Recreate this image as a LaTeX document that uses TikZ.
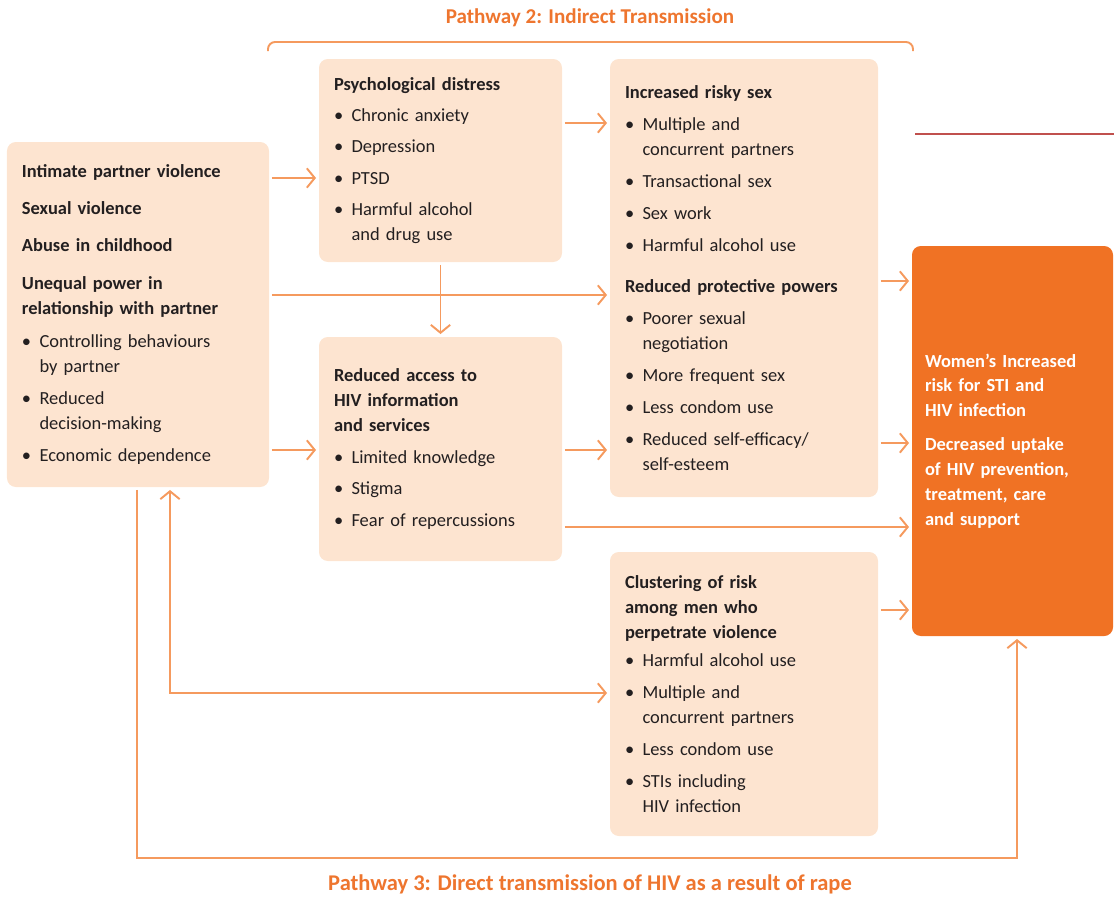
\documentclass[tikz,border=0pt]{standalone}
\usepackage{fontspec}
\setmainfont{Carlito}
\usepackage{xcolor}
\usepackage{tikz}
\usetikzlibrary{shapes, arrows.meta, calc}

\definecolor{peach}{RGB}{253,228,208}
\definecolor{outorange}{RGB}{240,114,36}
\definecolor{arrowc}{RGB}{245,154,94}
\definecolor{titlec}{RGB}{238,117,46}
\definecolor{redline}{RGB}{192,80,77}
\definecolor{textc}{RGB}{35,31,32}

\newcommand{\bul}{\makebox[0.95em][l]{\textbullet}}
\newcommand{\ind}{\hspace*{0.95em}}

\begin{document}
\begin{tikzpicture}[
  font=\fontsize{10.5}{14.2}\selectfont,
  factor/.style  = {fill=peach, rounded corners=5pt, inner xsep=0.3cm,
                    align=left, text=textc},
  outcome/.style = {fill=outorange, rounded corners=5pt, inner xsep=0.26cm,
                    align=left, text=white, font=\fontsize{10.5}{14.2}\selectfont\bfseries},
  arr/.style     = {-{Straight Barb[length=4.5pt,width=11pt]}, draw=arrowc,
                    line width=1.1pt, shorten <=1.5pt, shorten >=1.5pt},
  arrboth/.style = {{Straight Barb[length=4.5pt,width=11pt]}-{Straight Barb[length=4.5pt,width=11pt]},
                    draw=arrowc, line width=1.1pt, shorten <=1.5pt, shorten >=1.5pt},
  brace/.style   = {draw=arrowc, line width=1.1pt, rounded corners=4pt},
  title/.style   = {text=titlec, font=\fontsize{12}{14}\selectfont\bfseries},
]
\useasboundingbox (0,0) rectangle (22.28,-17.92);

%% Violence and power
\node[factor, text width=4.64cm, minimum height=6.9cm] (left) at (2.76, -6.29)
     {\textbf{Intimate partner violence}\\[7pt]
      \textbf{Sexual violence}\\[7pt]
      \textbf{Abuse in childhood}\\[7pt]
      \textbf{Unequal power in}\\
      \textbf{relationship with partner}\\[5pt]
      \bul Controlling behaviours\\
      \ind by partner\\[4pt]
      \bul Reduced\\
      \ind decision-making\\[4pt]
      \bul Economic dependence};

%% Pathway 2 middle column
\node[factor, text width=4.26cm, minimum height=4.06cm] (psych) at (8.81, -3.21)
     {\textbf{Psychological distress}\\[3.5pt]
      \bul Chronic anxiety\\[3.5pt]
      \bul Depression\\[3.5pt]
      \bul PTSD\\[3.5pt]
      \bul Harmful alcohol\\
      \ind and drug use};
\node[factor, text width=4.26cm, minimum height=4.48cm] (access) at (8.81, -8.98)
     {\textbf{Reduced access to}\\
      \textbf{HIV information}\\
      \textbf{and services}\\[4pt]
      \bul Limited knowledge\\[3.5pt]
      \bul Stigma\\[3.5pt]
      \bul Fear of repercussions};

%% Right column
\node[factor, text width=4.76cm, minimum height=8.76cm] (risky) at (14.88, -5.56)
     {\textbf{Increased risky sex}\\[4pt]
      \bul Multiple and\\
      \ind concurrent partners\\[4pt]
      \bul Transactional sex\\[4pt]
      \bul Sex work\\[4pt]
      \bul Harmful alcohol use\\[9pt]
      \textbf{Reduced protective powers}\\[4pt]
      \bul Poorer sexual\\
      \ind negotiation\\[4pt]
      \bul More frequent sex\\[4pt]
      \bul Less condom use\\[4pt]
      \bul Reduced self-efficacy/\\
      \ind self-esteem};
\node[factor, text width=4.76cm, minimum height=5.68cm] (cluster) at (14.88, -13.88)
     {\textbf{Clustering of risk}\\
      \textbf{among men who}\\
      \textbf{perpetrate violence}\\[2pt]
      \bul Harmful alcohol use\\[4pt]
      \bul Multiple and\\
      \ind concurrent partners\\[4pt]
      \bul Less condom use\\[4pt]
      \bul STIs including\\
      \ind HIV infection};

%% Outcome
\node[outcome, text width=3.5cm, minimum height=7.8cm] (outc) at (20.25, -8.82)
     {Women’s Increased\\
      risk for STI and\\
      HIV infection\\[5pt]
      Decreased uptake\\
      of HIV prevention,\\
      treatment, care\\
      and support};

\draw[redline, line width=1.1pt] (18.3, -2.68) -- (22.28, -2.68);

%% Pathway titles
\node[title] (p2) at (11.8, -0.36) {Pathway 2: Indirect Transmission};
\draw[brace] (5.36, -1.02) -- (5.36, -0.84) -- (18.26, -0.84) -- (18.26, -1.02);
\node[title, font=\fontsize{12.8}{15}\selectfont\bfseries] (p3) at (11.8, -17.68)
     {Pathway 3: Direct transmission of HIV as a result of rape};

%% Connectors
\draw[arr] (left.east |- 0,-3.56)  -- (psych.west |- 0,-3.56);
\draw[arr] (left.east |- 0,-9.0)   -- (access.west |- 0,-9.0);
\draw[arr] (psych.south)           -- (access.north);
\draw[arr] (left.east |- 0,-5.90)  -- (risky.west |- 0,-5.90);
\draw[arr] (psych.east |- 0,-2.46) -- (risky.west |- 0,-2.46);
\draw[arr] (access.east |- 0,-9.0) -- (risky.west |- 0,-9.0);

\draw[arr] (risky.east |- 0,-5.62)   -- (outc.west |- 0,-5.62);
\draw[arr] (risky.east |- 0,-8.86)   -- (outc.west |- 0,-8.86);
\draw[arr] (access.east |- 0,-10.54) -- (outc.west |- 0,-10.54);
\draw[arr] (cluster.east |- 0,-12.2) -- (outc.west |- 0,-12.2);

\draw[arrboth] (left.south -| 3.4,0) |- (cluster.west |- 0,-13.86);
\draw[arr] (left.south -| 2.74,0) -- (2.74, -17.16) -| ([xshift=0.09cm]outc.south);

\end{tikzpicture}
\end{document}
